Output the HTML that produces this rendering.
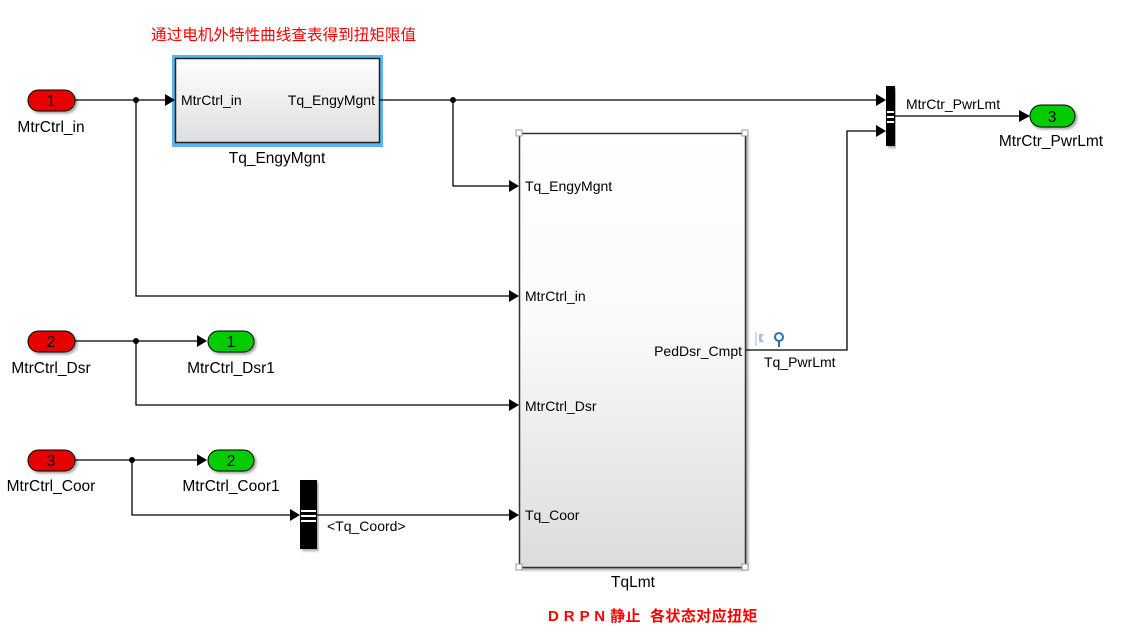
<!DOCTYPE html>
<html><head><meta charset="utf-8"><style>
html,body{margin:0;padding:0;background:#fff;width:1125px;height:634px;overflow:hidden}
svg{display:block}
text{font-family:"Liberation Sans","Noto Sans CJK SC",sans-serif;font-size:14px;fill:#000}
.l{font-size:15.5px}
</style></head><body>
<svg width="1125" height="634" viewBox="0 0 1125 634" xmlns="http://www.w3.org/2000/svg">
<defs>
<linearGradient id="g" x1="0" y1="0" x2="0" y2="1"><stop offset="0" stop-color="#fff"/><stop offset="0.45" stop-color="#fafafa"/><stop offset="1" stop-color="#dcdcdc"/></linearGradient>
<linearGradient id="g2" x1="0" y1="0" x2="0" y2="1"><stop offset="0" stop-color="#fff"/><stop offset="1" stop-color="#dedede"/></linearGradient>
<filter id="sh"><feDropShadow dx="2" dy="2" stdDeviation="1.2" flood-opacity="0.35"/></filter>
</defs>
<text x="151" y="40" style="fill:#ff0000;font-size:15.6px">通过电机外特性曲线查表得到扭矩限值</text>
<text x="548" y="621" style="fill:#ff0000;font-size:15px;font-weight:bold;letter-spacing:0.4px">D R P N 静止 &#160;各状态对应扭矩</text>

<rect x="172" y="55" width="211" height="92" fill="#5ab4ee"/>
<rect x="175.5" y="58.5" width="204" height="84" fill="url(#g2)" stroke="#222" stroke-width="1.5"/>
<text x="181" y="105">MtrCtrl_in</text>
<text x="375" y="105" text-anchor="end">Tq_EngyMgnt</text>
<text class="l" x="277" y="163" text-anchor="middle">Tq_EngyMgnt</text>

<rect x="519.5" y="133.5" width="226" height="434" fill="url(#g)" stroke="#333" stroke-width="1.5" filter="url(#sh)"/>
<g fill="#fff" stroke="#999"><rect x="516" y="130" width="6" height="6"/><rect x="742" y="130" width="6" height="6"/><rect x="516" y="564" width="6" height="6"/><rect x="742" y="564" width="6" height="6"/></g>
<text x="525" y="191">Tq_EngyMgnt</text>
<text x="525" y="301">MtrCtrl_in</text>
<text x="525" y="411">MtrCtrl_Dsr</text>
<text x="525" y="520">Tq_Coor</text>
<text x="742" y="356" text-anchor="end">PedDsr_Cmpt</text>
<text class="l" x="633" y="587" text-anchor="middle">TqLmt</text>

<g stroke="#000" stroke-width="1.3" fill="none">
<path d="M75 100H165"/>
<path d="M136 100V296H511"/>
<path d="M379 100H877"/>
<path d="M453 100V186H511"/>
<path d="M895 116H1022"/>
<path d="M746 350H847V131H877"/>
<path d="M75 341H199"/>
<path d="M136 341V405H511"/>
<path d="M75 460H199"/>
<path d="M132 460V515H292"/>
<path d="M317 515H511"/>
</g>
<g fill="#000">
<circle cx="136" cy="100" r="3"/><circle cx="453" cy="100" r="3"/><circle cx="136" cy="341" r="3"/><circle cx="132" cy="460" r="3"/>
<path d="M165 94L175 100L165 106Z"/>
<path d="M509 180L519 186L509 192Z"/>
<path d="M509 290L519 296L509 302Z"/>
<path d="M509 399L519 405L509 411Z"/>
<path d="M509 509L519 515L509 521Z"/>
<path d="M876 94L886 100L876 106Z"/>
<path d="M876 125L886 131L876 137Z"/>
<path d="M1019 110L1030 116L1019 122Z"/>
<path d="M197 335L207 341L197 347Z"/>
<path d="M197 454L207 460L197 466Z"/>
<path d="M290 509L300 515L290 521Z"/>
</g>

<rect x="886" y="86" width="9" height="60" fill="#000" filter="url(#sh)"/>
<rect x="887" y="111" width="7" height="2" fill="#fff"/><rect x="887" y="116" width="7" height="2" fill="#fff"/><rect x="887" y="121" width="7" height="2" fill="#fff"/>
<text x="906" y="109">MtrCtr_PwrLmt</text>
<rect x="300" y="480" width="17" height="69" fill="#000" filter="url(#sh)"/>
<rect x="301" y="510" width="15" height="2" fill="#fff"/><rect x="301" y="515" width="15" height="2" fill="#fff"/><rect x="301" y="520" width="15" height="2" fill="#fff"/>
<text x="327" y="531">&lt;Tq_Coord&gt;</text>
<text x="764" y="367">Tq_PwrLmt</text>
<path d="M756 332V346" stroke="#9bb5d0" stroke-width="1"/>
<path d="M759 334L764 334L761 338L764 342L759 342Z" fill="#a9c0d8"/>
<circle cx="779" cy="337" r="4" fill="none" stroke="#2f6fb0" stroke-width="2"/>
<path d="M779 341V347" stroke="#2f6fb0" stroke-width="2"/>

<g filter="url(#sh)" stroke="#000" stroke-width="1">
<rect x="28" y="90" width="47" height="21" rx="10.5" fill="#e60000"/>
<rect x="28" y="331" width="47" height="21" rx="10.5" fill="#e60000"/>
<rect x="28" y="450" width="47" height="21" rx="10.5" fill="#e60000"/>
<rect x="208" y="331" width="46" height="21" rx="10.5" fill="#00cc00"/>
<rect x="208" y="450" width="46" height="21" rx="10.5" fill="#00cc00"/>
<rect x="1030" y="105" width="45" height="22" rx="11" fill="#00cc00"/>
</g>
<g text-anchor="middle" class="l">
<text class="l" x="51" y="106">1</text><text class="l" x="51" y="347">2</text><text class="l" x="51" y="466">3</text>
<text class="l" x="231" y="347">1</text><text class="l" x="231" y="466">2</text><text class="l" x="1052" y="122">3</text>
<text class="l" x="51" y="132">MtrCtrl_in</text>
<text class="l" x="51" y="373">MtrCtrl_Dsr</text>
<text class="l" x="51" y="491">MtrCtrl_Coor</text>
<text class="l" x="231" y="373">MtrCtrl_Dsr1</text>
<text class="l" x="231" y="491">MtrCtrl_Coor1</text>
<text class="l" x="1051" y="146">MtrCtr_PwrLmt</text>
</g>
</svg>
</body></html>
